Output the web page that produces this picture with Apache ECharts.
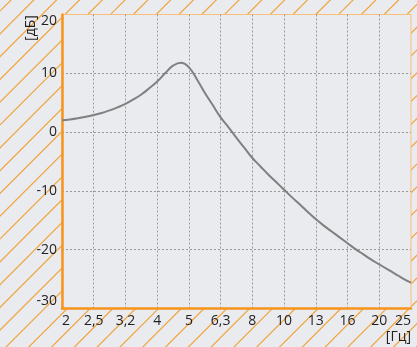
<!DOCTYPE html>
<html>
<head>
<meta charset="utf-8">
<script src="https://cdn.jsdelivr.net/npm/echarts@6/dist/echarts.min.js"></script>
<style>
html,body{margin:0;padding:0;background:#eaebee;}
#chart{width:417px;height:347px;}
</style>
</head>
<body>
<div id="chart"></div>
<script>
// Tick labels for the 1/3-octave bands (equally spaced on the axis)
const tickLabels = ['2', '2,5', '3,2', '4', '5', '6,3', '8', '10', '13', '16', '20', '25'];
// Curve: band position (index into tickLabels, quarter-band steps) and level in dB
const bandPos = [0, 0.25, 0.5, 0.75, 1, 1.25, 1.5, 1.75, 2, 2.25, 2.5, 2.75, 3, 3.25, 3.5, 3.75, 4, 4.25, 4.5, 4.75, 5, 5.25, 5.5, 5.75, 6, 6.25, 6.5, 6.75, 7, 7.25, 7.5, 7.75, 8, 8.25, 8.5, 8.75, 9, 9.25, 9.5, 9.75, 10, 10.25, 10.5, 10.75, 11];
const levelDb = [2.0, 2.15, 2.35, 2.6, 2.9, 3.25, 3.7, 4.2, 4.8, 5.55, 6.4, 7.45, 8.6, 10.0, 11.3, 11.8, 11.0, 9.0, 6.7, 4.6, 2.5, 0.8, -1.0, -2.7, -4.4, -5.8, -7.2, -8.5, -9.8, -11.1, -12.3, -13.6, -14.8, -15.9, -16.9, -17.9, -18.9, -19.9, -20.8, -21.7, -22.5, -23.3, -24.1, -24.9, -25.6];
const yMin = -30, yMax = 20, yStep = 10;
const xUnit = '[Гц]';
const yUnit = '[дБ]';

// hatch pattern
const T = 114, P = 22.8, C = 11;
const cv = document.createElement('canvas');
cv.width = T; cv.height = T;
const cx = cv.getContext('2d');
cx.fillStyle = '#eaebee';
cx.fillRect(0, 0, T, T);
cx.strokeStyle = '#f0a43c';
cx.lineWidth = 1.2;
for (let k = -1; k <= 11; k++) {
  const s = C + k * P;
  cx.beginPath();
  cx.moveTo(-10, s + 10);
  cx.lineTo(s + 10, -10);
  cx.stroke();
}

const chart = echarts.init(document.getElementById('chart'), null, {renderer: 'canvas'});
const font = '"Open Sans", "DejaVu Sans", sans-serif';
const orange = '#f7941d';

chart.setOption({
  animation: false,
  backgroundColor: {image: cv, repeat: 'repeat'},
  grid: {
    left: 62, right: 6, top: 14.5, bottom: 38.5,
    show: true, backgroundColor: '#eaebee',
    borderColor: '#f8c07e', borderWidth: 1
  },
  xAxis: {
    type: 'value', min: 0, max: tickLabels.length - 1, interval: 1,
    axisLine: {show: true, onZero: false, lineStyle: {color: orange, width: 2.5}},
    axisTick: {show: false},
    axisLabel: {
      color: '#231f20', fontFamily: font, fontSize: 14, margin: 6,
      alignMinLabel: 'left', alignMaxLabel: 'right',
      formatter: v => tickLabels[Math.round(v)] ?? ''
    },
    splitLine: {show: true, showMinLine: false, showMaxLine: false,
      lineStyle: {color: '#999999', type: [2, 2], width: 1}}
  },
  yAxis: {
    type: 'value', min: yMin, max: yMax, interval: yStep,
    axisLine: {show: true, onZero: false, lineStyle: {color: orange, width: 2.5}},
    axisTick: {show: false},
    axisLabel: {
      color: '#231f20', fontFamily: font, fontSize: 14, margin: 5,
      verticalAlignMaxLabel: 'top', verticalAlignMinLabel: 'bottom'
    },
    splitLine: {show: true, showMinLine: false, showMaxLine: false,
      lineStyle: {color: '#999999', type: [2, 2], width: 1}}
  },
  graphic: [
    {type: 'text', right: 6, top: 330,
      style: {text: xUnit, fill: '#231f20', font: '14px ' + font}},
    {type: 'text', x: 31, y: 28, rotation: Math.PI / 2,
      style: {text: yUnit, fill: '#231f20', font: '14px ' + font, align: 'center', verticalAlign: 'middle'}}
  ],
  series: [{
    type: 'line',
    data: bandPos.map((x, i) => [x, levelDb[i]]),
    showSymbol: false,
    smooth: 0.5,
    lineStyle: {color: '#808080', width: 2},
    clip: true
  }]
});
</script>
</body>
</html>
